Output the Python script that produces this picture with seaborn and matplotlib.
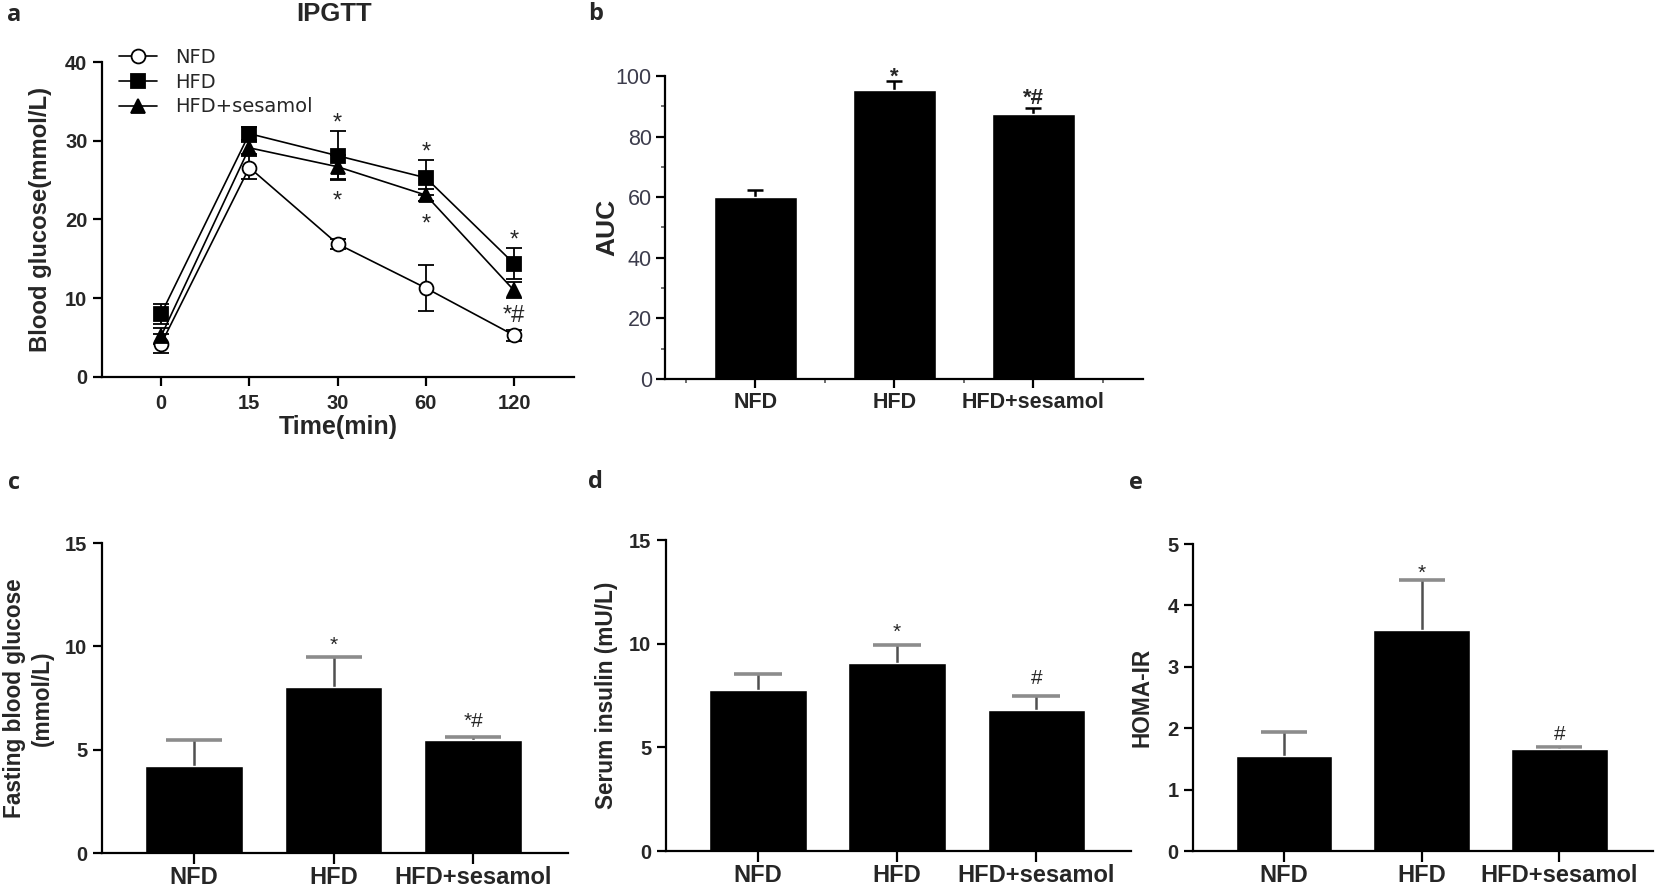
import numpy as np
import pandas as pd
import matplotlib
matplotlib.use("Agg")
import matplotlib.pyplot as plt
from matplotlib import font_manager
from matplotlib.ticker import MultipleLocator, FixedLocator
import seaborn as sns

# IPGTT time course, mean and SEM (mmol/L)
times = ["0", "15", "30", "60", "120"]
nfd_glu = [4.2, 26.6, 16.9, 11.3, 5.3]
nfd_err = [1.2, 1.4, 0.6, 2.9, 0.7]
hfd_glu = [8.0, 30.9, 28.1, 25.3, 14.4]
hfd_err = [1.3, 0.8, 3.1, 2.2, 2.0]
ses_glu = [5.2, 29.1, 26.7, 23.1, 11.0]
ses_err = [1.0, 0.8, 1.5, 0.8, 1.0]
hfd_sig = ["", "", "*", "*", "*"]
ses_sig = ["", "", "*", "*", "*#"]

# bar panels
groups = ["NFD", "HFD", "HFD+sesamol"]
auc = [60.0, 95.4, 87.6]
auc_err = [2.4, 3.0, 2.0]
auc_sig = ["", "*", "*#"]
fbg = [4.2, 8.05, 5.45]
fbg_err = [1.25, 1.45, 0.15]
fbg_sig = ["", "*", "*#"]
insulin = [7.75, 9.05, 6.8]
insulin_err = [0.8, 0.9, 0.7]
insulin_sig = ["", "*", "#"]
homa = [1.55, 3.6, 1.66]
homa_err = [0.38, 0.81, 0.04]
homa_sig = ["", "*", "#"]

sns.set_theme(style="ticks")
installed = {f.name for f in font_manager.fontManager.ttflist}
has_narrow = "Liberation Sans Narrow" in installed
narrow = "Liberation Sans Narrow" if has_narrow else "Liberation Sans"
plt.rcParams["font.family"] = ["Liberation Sans", "DejaVu Sans"]
shrink = 1.0 if has_narrow else 0.86

W, H = 1655, 888
fig = plt.figure(figsize=(W / 100, H / 100), dpi=100)


def px_axes(left, right, bottom, top):
    return fig.add_axes([left / W, 1 - bottom / H, (right - left) / W, (bottom - top) / H])


def style(ax):
    sns.despine(ax=ax)
    for s in ["left", "bottom"]:
        ax.spines[s].set_linewidth(1.6)
        ax.spines[s].set_color("black")
    ax.tick_params(which="major", length=6.5, width=1.6, color="black", pad=4)
    ax.set_facecolor("white")


def mark(ax, x, y, s, gap, fs, **kw):
    # place the visual centre of the glyph `gap` points above y
    k = 0.58 if s == "*" else 0.36
    ax.annotate(s, (x, y), xytext=(0, gap - k * fs), textcoords="offset points",
                ha="center", va="baseline", fontsize=fs, annotation_clip=False, **kw)


def upper_errors(ax, vals, errs, **kw):
    # one-sided error bars; the lower cap sits on the bar top, so hide it
    _, caps, _ = ax.errorbar(range(len(vals)), vals, yerr=[np.zeros(len(vals)), errs],
                             fmt="none", zorder=1, **kw)
    for c in caps:
        if np.allclose(c.get_ydata(), vals):
            c.set_visible(False)
    return caps


tick_bold = dict(fontfamily=narrow, fontweight="bold", fontsize=15 if has_narrow else 14.5)
ylab_kw = dict(fontfamily=narrow, fontweight="bold")

# ---------------- a: IPGTT ----------------
ax = px_axes(102, 574, 377, 62)
style(ax)
pos = np.arange(len(times))
series = [("NFD", nfd_glu, nfd_err, "o", "white"),
          ("HFD", hfd_glu, hfd_err, "s", "black"),
          ("HFD+sesamol", ses_glu, ses_err, "^", "black")]
for name, vals, errs, mk, fc in series:
    ax.errorbar(pos, vals, yerr=errs, fmt="none", ecolor="black", elinewidth=1.3,
                capsize=6, capthick=1.3, zorder=2)
    sns.lineplot(x=pos, y=vals, color="black", linewidth=1.2, marker=mk, markersize=10,
                 markerfacecolor=fc, markeredgecolor="black", markeredgewidth=1.3,
                 label=name, ax=ax, zorder=3)
for i in range(len(times)):
    if hfd_sig[i]:
        mark(ax, i, hfd_glu[i] + hfd_err[i], hfd_sig[i], 11, 17)
    if ses_sig[i]:
        mark(ax, i, ses_glu[i] - ses_err[i], ses_sig[i], -11, 17)
ax.set_xlim(-0.67, 4.68)
ax.set_ylim(0, 40)
ax.set_xticks(pos, times, **tick_bold)
ax.set_yticks([0, 10, 20, 30, 40], ["0", "10", "20", "30", "40"], **tick_bold)
ax.tick_params(axis="x", pad=6)
ax.set_xlabel("Time(min)", fontsize=18, fontweight="bold", labelpad=1)
ax.set_ylabel("Blood glucose(mmol/L)", fontsize=20 * shrink, **ylab_kw)
ax.yaxis.set_label_coords(-50 / 472, 0.5)
ax.legend(loc="upper left", bbox_to_anchor=(0.035, 1.045), frameon=False,
          prop={"family": "DejaVu Sans", "size": 14}, handlelength=2.0,
          handletextpad=0.9, labelspacing=0.3, borderpad=0, borderaxespad=0)

# ---------------- b: AUC ----------------
ax = px_axes(665, 1143, 379, 76)
style(ax)
sns.barplot(x=groups, y=auc, color="black", saturation=1, width=0.6, ax=ax, zorder=2)
upper_errors(ax, auc, auc_err, ecolor="black", elinewidth=1.8, capsize=5.5, capthick=1.8)
for i, s in enumerate(auc_sig):
    if s:
        mark(ax, i, auc[i] + auc_err[i], s, 8, 16, fontweight="bold")
ax.set_xlim(-0.65, 2.79)
ax.set_ylim(0, 100)
ax.set_yticks([0, 20, 40, 60, 80, 100], ["0", "20", "40", "60", "80", "100"],
              fontsize=15.5, color="#3c3c4c")
ax.yaxis.set_minor_locator(MultipleLocator(10))
ax.xaxis.set_minor_locator(FixedLocator([-0.5, 0.5, 1.5, 2.5]))
ax.tick_params(which="minor", length=3, width=1.2, color="#555555")
ax.tick_params(axis="y", pad=3)
ax.set_xticks(range(3), groups, fontsize=15.5, fontweight="bold")
ax.tick_params(axis="x", pad=3)
ax.set_xlabel("")
ax.set_ylabel("AUC", fontsize=19, fontweight="bold")
ax.yaxis.set_label_coords(-46 / 478, 0.5)

# ---------------- c, d, e ----------------
bar_panels = [
    ((102, 568, 853, 543), fbg, fbg_err, fbg_sig, 15, [0, 5, 10, 15],
     "Fasting blood glucose\n(mmol/L)", -48 / 466, 20, 13),
    ((666, 1131, 851, 540), insulin, insulin_err, insulin_sig, 15, [0, 5, 10, 15],
     "Serum insulin (mU/L)", -48 / 465, 17, 14),
    ((1193, 1653, 851, 544), homa, homa_err, homa_sig, 5, [0, 1, 2, 3, 4, 5],
     "HOMA-IR", -39 / 460, 16.5, 10),
]
for (l, r, b, t), vals, errs, sig, top, ticks, ylabel, lx, cap, gap in bar_panels:
    ax = px_axes(l, r, b, t)
    style(ax)
    sns.barplot(x=groups, y=vals, color="black", saturation=1, width=0.7, ax=ax, zorder=2)
    caps = upper_errors(ax, vals, errs, ecolor="#505050", elinewidth=1.8, capsize=cap,
                        capthick=2.6)
    for c in caps:
        c.set_color("#8c8c8c")
        c.set_markeredgecolor("#8c8c8c")
    for i, s in enumerate(sig):
        if s:
            mark(ax, i, vals[i] + errs[i], s, gap, 15)
    ax.set_xlim(-0.66, 2.68)
    ax.set_ylim(0, top)
    ax.set_yticks(ticks, [str(v) for v in ticks], **tick_bold)
    ax.set_xticks(range(3), groups, fontsize=17, fontweight="bold")
    ax.tick_params(axis="x", length=8, pad=1.5)
    ax.set_xlabel("")
    ax.set_ylabel(ylabel, fontsize=19 * shrink, linespacing=1.25, **ylab_kw)
    ax.yaxis.set_label_coords(lx, 0.5)

# panel letters and title
for letter, x, y in [("a", 14, 15), ("b", 596, 14), ("c", 14, 483), ("d", 595, 482), ("e", 1136, 483)]:
    fig.text(x / W, 1 - y / H, letter, fontsize=17, fontweight="bold", family="Open Sans",
             ha="center", va="center")
fig.text(334 / W, 1 - 14 / H, "IPGTT", fontsize=18.5, fontweight="bold",
         ha="center", va="center")

fig.savefig("out.png", dpi=100)
